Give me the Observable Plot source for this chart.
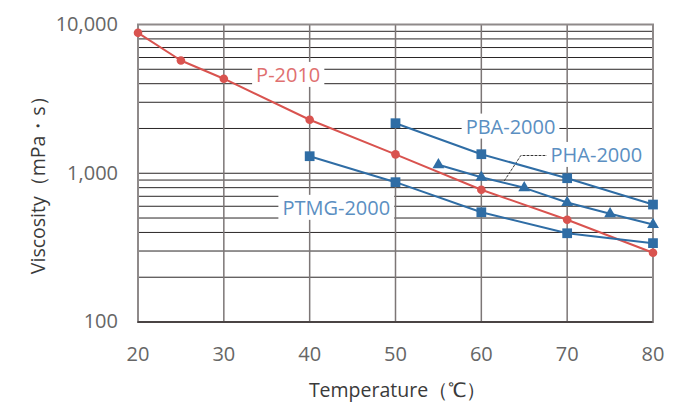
<!DOCTYPE html>
<html><head><meta charset="utf-8">
<script src="https://cdn.jsdelivr.net/npm/d3@7"></script>
<script src="https://cdn.jsdelivr.net/npm/@observablehq/plot@0.6"></script>
<style>
body{margin:0;background:#fff}
svg{display:block;font-family:"Open Sans",sans-serif}
</style>
</head><body><div id="chart"></div>
<script>
// ---- data ----
const tempP = [20, 25, 30, 40, 50, 60, 70, 80];
const viscP = [8790, 5730, 4320, 2290, 1340, 775, 487, 292];
const tempPBA = [50, 60, 70, 80];
const viscPBA = [2170, 1343, 926, 616];
const tempPHA = [55, 60, 65, 70, 75, 80];
const viscPHA = [1140, 940, 798, 636, 534, 452];
const tempPTMG = [40, 50, 60, 70, 80];
const viscPTMG = [1302, 871, 547, 395, 339];

const xTicks = [20, 30, 40, 50, 60, 70, 80];
const yTicks = [100, 1000, 10000];
const xGrid = [30, 40, 50, 60, 70];
const yGrid = [200, 300, 400, 500, 600, 700, 800, 900, 1000, 2000, 3000, 4000, 5000, 6000, 7000, 8000, 9000];

const labelNames = ["P-2010", "PBA-2000", "PHA-2000", "PTMG-2000"];
const labelTemps = [37.5, 63.4, 73.4, 43.1];
const labelVisc = [4540, 2040, 1316, 580];
const labelColors = ["#e07070", "#5b8fc2", "#5b8fc2", "#5b8fc2"];

// PHA leader (dotted)
const leaderTemps = [62.7, 64.6, 67.7];
const leaderVisc = [894, 1316, 1316];

const RED = "#d9534f";
const BLUE = "#2f6da5";

const zip = (xs, ys) => xs.map((x, i) => ({x, y: ys[i]}));
const P = zip(tempP, viscP), PBA = zip(tempPBA, viscPBA), PHA = zip(tempPHA, viscPHA), PTMG = zip(tempPTMG, viscPTMG);
const labels = labelNames.map((n, i) => ({n, x: labelTemps[i], y: labelVisc[i], c: labelColors[i]}));
const leader = zip(leaderTemps, leaderVisc);

const chart = Plot.plot({
  width: 697, height: 409,
  marginLeft: 137.5, marginRight: 44.5, marginTop: 24, marginBottom: 87.5,
  x: {domain: [20, 80]},
  y: {type: "log", domain: [100, 10000]},
  marks: [
    Plot.ruleY(yGrid, {stroke: "#2a2626", strokeWidth: 1}),
    Plot.ruleX(xGrid, {stroke: "#7c7676", strokeWidth: 1.5}),
    Plot.frame({stroke: "#8f8a8a", strokeWidth: 2}),
    Plot.ruleY([100], {stroke: "#4a4444", strokeWidth: 2}),
    Plot.axisX({ticks: xTicks, tickSize: 0, tickPadding: 25, fontSize: 20, label: null}),
    Plot.axisY({ticks: yTicks, tickSize: 0, tickPadding: 20, fontSize: 20, tickFormat: d3.format(","), label: null}),
    Plot.text(["Temperature（℃）"], {frameAnchor: "bottom", textAnchor: "middle", dx: 2, dy: 75, fontSize: 19.5, fill: "#3a3a3a"}),
    Plot.text(["Viscosity（mPa・s）"], {frameAnchor: "left", textAnchor: "middle", rotate: -90, dx: -99.5, dy: 7, fontSize: 19.5, fill: "#3a3a3a"}),
    Plot.line(leader, {x: "x", y: "y", stroke: "#333", strokeWidth: 1, strokeDasharray: "2,2"}),
    Plot.line(P, {x: "x", y: "y", stroke: RED, strokeWidth: 2}),
    Plot.line(PBA, {x: "x", y: "y", stroke: BLUE, strokeWidth: 2}),
    Plot.line(PHA, {x: "x", y: "y", stroke: BLUE, strokeWidth: 2}),
    Plot.line(PTMG, {x: "x", y: "y", stroke: BLUE, strokeWidth: 2}),
    Plot.dot(P, {x: "x", y: "y", r: 4.3, fill: RED, symbol: "circle"}),
    Plot.dot(PBA, {x: "x", y: "y", r: 5.5, fill: BLUE, symbol: "square"}),
    Plot.dot(PHA, {x: "x", y: "y", r: 4.4, fill: BLUE, symbol: "triangle"}),
    Plot.dot(PTMG, {x: "x", y: "y", r: 5.5, fill: BLUE, symbol: "square"}),
    Plot.text(labels, {x: "x", y: "y", text: "n", fill: "c", fontSize: 20, ariaDescription: "series-labels"})
  ]
});
document.getElementById("chart").appendChild(chart);

// tick label colour
chart.querySelectorAll('g[aria-label="x-axis tick label"], g[aria-label="y-axis tick label"]').forEach(g => g.setAttribute("fill", "#666"));

// white boxes behind series labels
const lg = chart.querySelector('g[aria-description="series-labels"]');
if (lg) {
  lg.querySelectorAll("text").forEach(t => {
    const b = t.getBBox();
    const r = document.createElementNS("http://www.w3.org/2000/svg", "rect");
    r.setAttribute("x", b.x - 4);
    r.setAttribute("y", b.y + 1);
    r.setAttribute("width", b.width + 8);
    r.setAttribute("height", b.height - 2);
    r.setAttribute("fill", "white");
    const tr = t.getAttribute("transform");
    if (tr) r.setAttribute("transform", tr);
    t.parentNode.insertBefore(r, t);
  });
}
</script>
</body></html>
